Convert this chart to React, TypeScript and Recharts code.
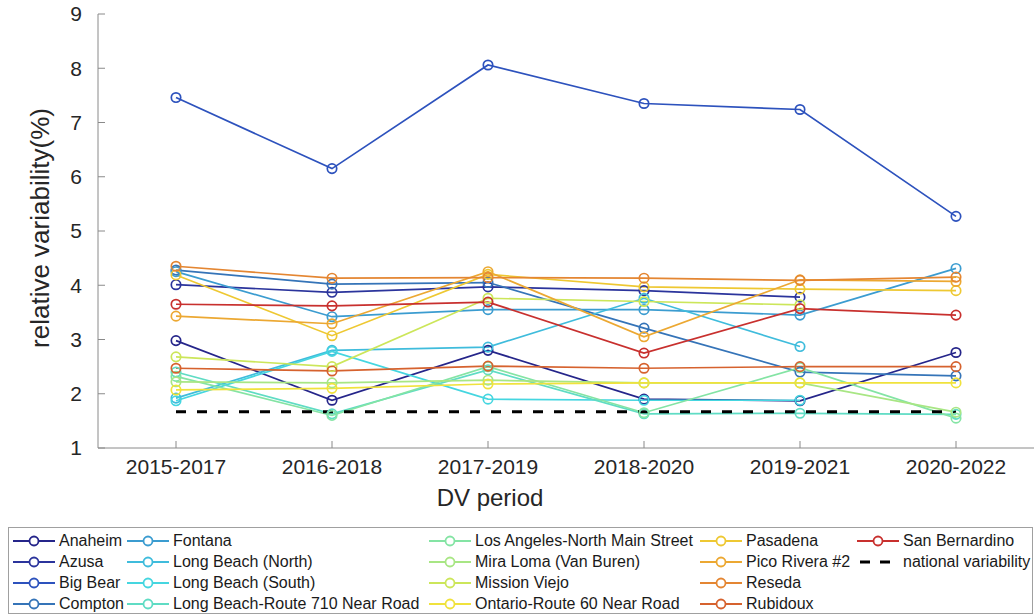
import React from 'react';
import { LineChart, Line, XAxis, YAxis } from 'recharts';

const periods = ['2015-2017', '2016-2018', '2017-2019', '2018-2020', '2019-2021', '2020-2022'];
const periodIndex = [1, 2, 3, 4, 5, 6];
const yTicks = [1, 2, 3, 4, 5, 6, 7, 8, 9];

const anaheim = [2.98, 1.88, 2.8, 1.9, 1.87, 2.76];
const azusa = [4.01, 3.87, 3.97, 3.9, 3.78, null];
const bigBear = [7.46, 6.15, 8.06, 7.35, 7.24, 5.27];
const compton = [4.28, 4.02, 4.05, 3.21, 2.4, 2.33];
const fontana = [4.25, 3.42, 3.55, 3.55, 3.45, 4.31];
const lbNorth = [1.92, 2.8, 2.86, 3.76, 2.87, null];
const lbSouth = [1.87, 2.78, 1.9, 1.88, 1.88, null];
const lb710 = [2.4, 1.63, 2.44, 1.63, 1.64, 1.62];
const laNorthMain = [2.32, 1.6, 2.5, 1.65, 2.48, 1.55];
const miraLoma = [2.22, 2.2, 2.25, 2.2, 2.2, 1.66];
const missionViejo = [2.68, 2.5, 3.76, 3.7, 3.64, null];
const ontario = [2.07, 2.1, 2.18, 2.2, 2.2, 2.2];
const pasadena = [4.19, 3.07, 4.2, 3.97, 3.93, 3.9];
const picoRivera = [3.43, 3.29, 4.25, 3.05, 4.1, 4.07];
const reseda = [4.35, 4.13, 4.14, 4.13, 4.09, 4.15];
const rubidoux = [2.47, 2.42, 2.51, 2.47, 2.5, 2.5];
const sanBernardino = [3.65, 3.62, 3.69, 2.75, 3.57, 3.45];
const national = [1.67, 1.67, 1.67, 1.67, 1.67, 1.67];

const stations = [
  { key: 'Anaheim', values: anaheim, color: '#25258a' },
  { key: 'Azusa', values: azusa, color: '#2b349c' },
  { key: 'Big Bear', values: bigBear, color: '#2d52bd' },
  { key: 'Compton', values: compton, color: '#3574b8' },
  { key: 'Fontana', values: fontana, color: '#3b9cd0' },
  { key: 'Long Beach (North)', values: lbNorth, color: '#3fbcdc' },
  { key: 'Long Beach (South)', values: lbSouth, color: '#45d6e0' },
  { key: 'Long Beach-Route 710 Near Road', values: lb710, color: '#5fdcc4' },
  { key: 'Los Angeles-North Main Street', values: laNorthMain, color: '#84e4a4' },
  { key: 'Mira Loma (Van Buren)', values: miraLoma, color: '#a8e684' },
  { key: 'Mission Viejo', values: missionViejo, color: '#cce65a' },
  { key: 'Ontario-Route 60 Near Road', values: ontario, color: '#f0e23c' },
  { key: 'Pasadena', values: pasadena, color: '#eec832' },
  { key: 'Pico Rivera #2', values: picoRivera, color: '#eca832' },
  { key: 'Reseda', values: reseda, color: '#e48632' },
  { key: 'Rubidoux', values: rubidoux, color: '#d6622e' },
  { key: 'San Bernardino', values: sanBernardino, color: '#c8302e' },
];

const data = periodIndex.map((x, i) => {
  const row: any = { x, national: national[i] };
  stations.forEach((s) => {
    row[s.key] = s.values[i];
  });
  return row;
});

const FONT = '"Liberation Sans", Arial, sans-serif';
const AXIS = '#8a8a8a';
const TEXT = '#262626';

const legendCols = [58, 172, 474, 745, 902];
const legendRows = [540, 561, 582, 603];

function LegendBox() {
  const items = [
    ...stations.map((s) => ({ label: s.key, color: s.color, dashed: false })),
    { label: 'national variability', color: '#000', dashed: true },
  ];
  return (
    <div
      style={{
        position: 'absolute',
        left: 8,
        top: 527,
        width: 1025,
        height: 87,
        border: '1px solid #a0a0a0',
        boxSizing: 'border-box',
        background: '#fff',
      }}
    >
      {items.map((it, i) => {
        const col = Math.floor(i / 4);
        const row = i % 4;
        const tx = legendCols[col] - 8;
        const ty = legendRows[row] - 527;
        return (
          <div key={it.label} style={{ position: 'absolute', left: tx - 47, top: ty - 10, height: 20, display: 'flex', alignItems: 'center' }}>
            <svg width={44} height={20} style={{ display: 'block' }}>
              {it.dashed ? (
                <g>
                  <line x1={4} y1={10} x2={14} y2={10} stroke="#000" strokeWidth={3} />
                  <line x1={24} y1={10} x2={34} y2={10} stroke="#000" strokeWidth={3} />
                </g>
              ) : (
                <g>
                  <line x1={1} y1={10} x2={43} y2={10} stroke={it.color} strokeWidth={1.8} />
                  <circle cx={22} cy={10} r={4.5} fill="#fff" stroke={it.color} strokeWidth={1.8} />
                </g>
              )}
            </svg>
            <span style={{ marginLeft: 3, fontFamily: FONT, fontSize: 16, color: '#1a1a1a', whiteSpace: 'nowrap', lineHeight: '20px' }}>
              {it.label}
            </span>
          </div>
        );
      })}
    </div>
  );
}

const YLabel = (props: any) => {
  const vb = props.viewBox || {};
  const cx = 40;
  const cy = vb.y + vb.height / 2 - 3;
  return (
    <text x={cx} y={cy} transform={`rotate(-90 ${cx} ${cy})`} textAnchor="middle" dominantBaseline="central" fontSize={26} fill={TEXT} fontFamily={FONT}>
      relative variability(%)
    </text>
  );
};

const XLabel = (props: any) => {
  const vb = props.viewBox || {};
  return (
    <text x={490} y={vb.y + 49} textAnchor="middle" dominantBaseline="central" fontSize={24} fill={TEXT} fontFamily={FONT}>
      DV period
    </text>
  );
};

export default function App() {
  return (
    <div style={{ position: 'absolute', left: 0, top: 0, width: 1036, height: 616, background: '#fff' }}>
      <LineChart width={1036} height={520} data={data} margin={{ top: 14, right: 2, left: 0, bottom: 0 }}>
        <XAxis
          xAxisId="bottom"
          dataKey="x"
          type="number"
          domain={[0.5, 6.5]}
          ticks={periodIndex}
          tickFormatter={(v: number) => periods[v - 1]}
          height={72}
          tickSize={-7}
          tickMargin={18}
          stroke={AXIS}
          tick={{ fontSize: 21, fill: TEXT, fontFamily: FONT }}
          label={<XLabel />}
        />
        <XAxis
          xAxisId="top"
          dataKey="x"
          type="number"
          orientation="top"
          domain={[0.5, 6.5]}
          ticks={periodIndex}
          height={0}
          tickSize={-7}
          tick={false}
          stroke={AXIS}
        />
        <YAxis
          yAxisId="left"
          domain={[1, 9]}
          ticks={yTicks}
          width={98}
          tickSize={-7}
          tickMargin={23}
          stroke={AXIS}
          tick={{ fontSize: 21, fill: TEXT, fontFamily: FONT }}
          label={<YLabel />}
        />
        <YAxis
          yAxisId="right"
          orientation="right"
          domain={[1, 9]}
          ticks={yTicks}
          width={0}
          tickSize={-7}
          tick={false}
          stroke={AXIS}
        />
        {stations.map((s) => (
          <Line
            key={s.key}
            xAxisId="bottom"
            yAxisId="left"
            dataKey={s.key}
            stroke={s.color}
            strokeWidth={1.7}
            dot={{ r: 4.7, fill: 'none', stroke: s.color, strokeWidth: 1.7 }}
            activeDot={false}
            isAnimationActive={false}
            connectNulls={false}
          />
        ))}
        <Line
          xAxisId="bottom"
          yAxisId="left"
          dataKey="national"
          stroke="#000"
          strokeWidth={3}
          strokeDasharray="10 11"
          dot={false}
          activeDot={false}
          isAnimationActive={false}
        />
      </LineChart>
      <LegendBox />
    </div>
  );
}
